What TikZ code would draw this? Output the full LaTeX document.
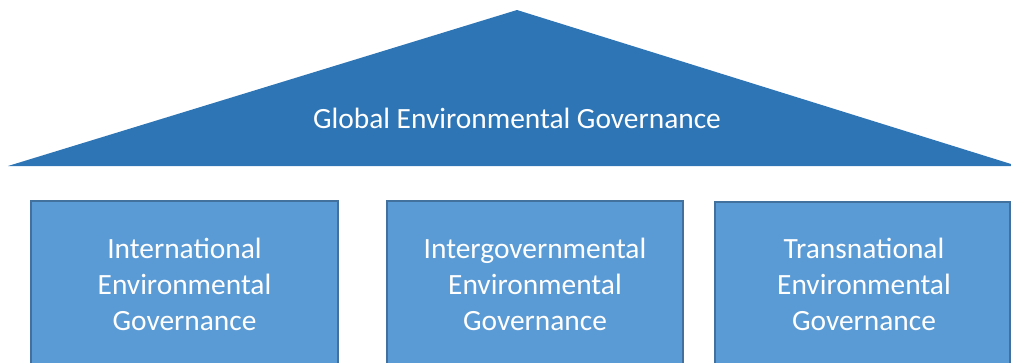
\documentclass[tikz,border=0pt]{standalone}
\usepackage{fontspec}
\setmainfont{Carlito}
\definecolor{roof}{HTML}{2E75B6}
\definecolor{boxfill}{HTML}{5B9BD5}
\definecolor{boxline}{HTML}{41719C}
\begin{document}
\begin{tikzpicture}[x=1pt,y=-1pt,
  pillar/.style={fill=boxfill,draw=boxline,line width=1.8pt},
  lbl/.style={text=white,font=\fontsize{29.4}{36}\selectfont,align=center,inner sep=0pt}]
\useasboundingbox (0,0) rectangle (1011,362);
\fill[roof] (517,10) coordinate (apex) -- (1011,164) coordinate (rc) -- (1011,166) -- (8,166) coordinate (lc) -- cycle;
\node[lbl] (title) at (517,118) {Global Environmental Governance};
\begin{scope}
\clip (0,0) rectangle (1011,362);
\draw[pillar] (31,201) rectangle (338,375);
\draw[pillar] (387,201) rectangle (683,375);
\draw[pillar] (715,202) rectangle (1010,375);
\end{scope}
\node[lbl] (b1) at (184.5,284) {International\\Environmental\\Governance};
\node[lbl] (b2) at (535,284) {Intergovernmental\\Environmental\\Governance};
\node[lbl] (b3) at (864,284) {Transnational\\Environmental\\Governance};
\end{tikzpicture}
\end{document}
